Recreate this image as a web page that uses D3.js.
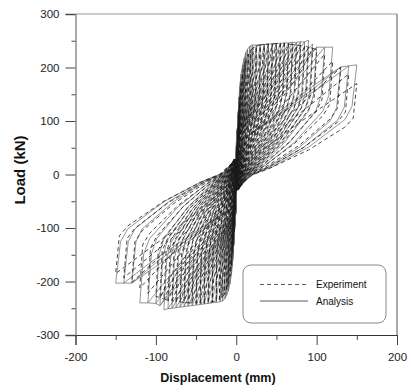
<!DOCTYPE html>
<html>
<head>
<meta charset="utf-8">
<script src="https://cdn.jsdelivr.net/npm/d3@7"></script>
<style>
  html, body { margin: 0; padding: 0; background: #fff; }
  svg { display: block; font-family: Arial, "Liberation Sans", sans-serif; }
</style>
</head>
<body>
<div id="chart"></div>
<script>
// peak displacement (mm) of each cycle and the peak loads (kN) reached on both sides
const anaDisp = [0.5, 0.5, 0.5, 1, 1, 1, 1.5, 1.5, 1.5, 2, 2, 2, 2.5, 2.5, 2.5, 3, 3, 3, 3.5, 3.5, 3.5, 4, 4, 4, 4.5, 4.5, 5, 6, 8, 10, 12, 14, 17, 20, 25, 30, 35, 40, 45, 50, 55, 60, 65, 70, 75, 80, 85, 90, 95, 100, 110, 120, 130, 140, 150];
const anaPos = [30, 28, 27, 55, 52, 50, 78, 74, 72, 98, 93, 90, 115, 110, 107, 130, 124, 121, 143, 137, 134, 155, 148, 145, 164, 158, 172, 188, 205, 218, 228, 234, 240, 242, 242, 243, 243, 244, 244, 245, 245, 246, 246, 247, 247, 248, 248, 251, 244, 238, 238, 238, 201, 203, 205];
const anaNeg = [-30, -28, -27, -55, -52, -50, -78, -74, -72, -98, -93, -90, -115, -110, -107, -130, -124, -121, -143, -137, -134, -155, -148, -145, -164, -158, -172, -188, -205, -218, -226, -232, -236, -238, -239, -240, -241, -242, -243, -244, -245, -246, -247, -248, -249, -250, -251, -253, -245, -241, -240, -240, -203, -203, -203];

const expDisp = [0.75, 0.75, 0.75, 1.5, 1.5, 1.5, 2.25, 2.25, 2.25, 3, 3, 3, 3.75, 3.75, 3.75, 4.5, 4.5, 6, 8, 10, 12, 15, 18, 21, 25, 30, 35, 40, 45, 50, 55, 60, 65, 70, 75, 80, 85, 90, 95, 100, 110, 120, 130, 140, 150];
const expPos = [35, 32, 31, 62, 58, 56, 88, 83, 81, 110, 104, 101, 130, 123, 120, 145, 138, 170, 190, 205, 215, 225, 232, 237, 240, 242, 243, 244, 244, 245, 245, 245, 244, 243, 242, 241, 240, 238, 236, 233, 225, 212, 200, 188, 170];
const expNeg = [-35, -32, -31, -62, -58, -56, -88, -83, -81, -110, -104, -101, -130, -123, -120, -145, -138, -170, -190, -205, -215, -224, -230, -234, -236, -238, -239, -240, -240, -240, -240, -240, -239, -238, -237, -236, -235, -233, -230, -228, -222, -212, -202, -193, -185];

// loop shape of one half cycle, as fractions of that cycle's peak (disp, load)
const anaReload = [[0.0, 0.05], [0.025, 0.3], [0.3, 0.5], [0.7, 0.8]];
const anaUnload = [[0.96, 0.62], [0.9, 0.5], [0.6, 0.25], [0.3, 0.07], [0.12, -0.01], [0.02, -0.1]];
const expReload = [[0.0, -0.1], [0.2, 0.25], [0.5, 0.55], [0.8, 0.82]];
const expUnload = [[0.97, 0.62], [0.9, 0.52], [0.6, 0.27], [0.28, 0.07], [0.14, 0.0], [0.03, -0.12]];

const xTicks = [-200, -100, 0, 100, 200];
const xMinor = [-150, -50, 50, 150];
const yTicks = [-300, -200, -100, 0, 100, 200, 300];
const yMinor = [-250, -150, -50, 50, 150, 250];

const legendItems = [
  { label: 'Experiment', dash: '4,3' },
  { label: 'Analysis', dash: null }
];

const width = 411, height = 392;

const svg = d3.select('#chart').append('svg')
  .attr('width', width)
  .attr('height', height);

const x = d3.scaleLinear().domain([-200, 200]).range([75.5, 397]);
const y = d3.scaleLinear().domain([-300, 300]).range([335, 14]);

// walk through the cycles: reload to the peak, then unload back through the centre
function loopPoints(disp, pos, neg, reload, unload) {
  const pts = [[0, 0]];
  const prev = { 1: null, '-1': null };
  disp.forEach((D, i) => {
    [[1, pos[i]], [-1, neg[i]]].forEach(([s, P]) => {
      const p = prev[s];
      const onEnvelope = p && p.D < D && Math.abs(p.P) <= Math.abs(P) + 5;
      reload.forEach(([fx, fy]) => {
        if (onEnvelope && fx * D >= p.D) return;
        pts.push([s * fx * D, fy * P]);
      });
      if (onEnvelope) pts.push([s * p.D, p.P]);
      pts.push([s * D, P]);
      unload.forEach(([fx, fy]) => pts.push([s * fx * D, fy * P]));
      prev[s] = { D, P };
    });
  });
  return pts;
}

const line = d3.line()
  .x(d => x(d[0]))
  .y(d => y(d[1]));

const plot = svg.append('g');

plot.append('path')
  .datum(loopPoints(anaDisp, anaPos, anaNeg, anaReload, anaUnload))
  .attr('fill', 'none')
  .attr('stroke', '#666')
  .attr('stroke-width', 0.7)
  .attr('d', line);

plot.append('path')
  .datum(loopPoints(expDisp, expPos, expNeg, expReload, expUnload))
  .attr('fill', 'none')
  .attr('stroke', '#1a1a1a')
  .attr('stroke-width', 0.8)
  .attr('stroke-dasharray', '4,3')
  .attr('d', line);

// frame
svg.append('line').attr('x1', x(-200)).attr('x2', x(200)).attr('y1', y(300)).attr('y2', y(300))
  .attr('stroke', '#999').attr('stroke-width', 1);
svg.append('line').attr('x1', x(200)).attr('x2', x(200)).attr('y1', y(300)).attr('y2', y(-300))
  .attr('stroke', '#555').attr('stroke-width', 1);

// axes
const fmt = d => String(d);
const yAxis = svg.append('g')
  .attr('transform', `translate(${x(-200)},0)`)
  .call(d3.axisLeft(y).tickValues(yTicks).tickSize(10).tickPadding(6).tickFormat(fmt));
svg.append('g')
  .attr('transform', `translate(${x(-200)},0)`)
  .call(d3.axisLeft(y).tickValues(yMinor).tickSize(4).tickFormat(''))
  .select('.domain').remove();

const xAxis = svg.append('g')
  .attr('transform', `translate(0,${y(-300)})`)
  .call(d3.axisBottom(x).tickValues(xTicks).tickSize(10).tickPadding(8).tickFormat(fmt));
svg.append('g')
  .attr('transform', `translate(0,${y(-300)})`)
  .call(d3.axisBottom(x).tickValues(xMinor).tickSize(5).tickFormat(''))
  .select('.domain').remove();

svg.selectAll('.tick line').attr('stroke', '#444');
yAxis.select('.domain').attr('stroke', '#aaa').attr('stroke-width', 2);
xAxis.select('.domain').attr('stroke', '#333');
svg.selectAll('.tick text')
  .attr('fill', '#222')
  .style('font-size', '11.5px')
  .style('font-family', 'Arial, "Liberation Sans", sans-serif');

// titles
svg.append('text')
  .attr('x', 218).attr('y', 382)
  .attr('text-anchor', 'middle')
  .style('font-size', '12.5px').style('font-weight', 'bold')
  .attr('fill', '#111')
  .text('Displacement (mm)');

svg.append('text')
  .attr('transform', 'translate(25,170) rotate(-90)')
  .attr('text-anchor', 'middle')
  .style('font-size', '15px').style('font-weight', 'bold')
  .attr('fill', '#111')
  .text('Load (kN)');

// legend
const legend = svg.append('g').attr('transform', 'translate(243,265)');
legend.append('rect')
  .attr('width', 143).attr('height', 58)
  .attr('rx', 8).attr('ry', 8)
  .attr('fill', '#fff')
  .attr('stroke', '#888');

const rows = legend.selectAll('g.row')
  .data(legendItems)
  .enter().append('g')
  .attr('class', 'row')
  .attr('transform', (d, i) => `translate(0,${19.5 + i * 16.5})`);

rows.append('line')
  .attr('x1', 17).attr('x2', 65)
  .attr('stroke', '#333')
  .attr('stroke-width', 0.8)
  .attr('stroke-dasharray', d => d.dash);

rows.append('text')
  .attr('x', 73).attr('dy', '0.35em')
  .style('font-size', '10px')
  .attr('fill', '#111')
  .text(d => d.label);
</script>
</body>
</html>
